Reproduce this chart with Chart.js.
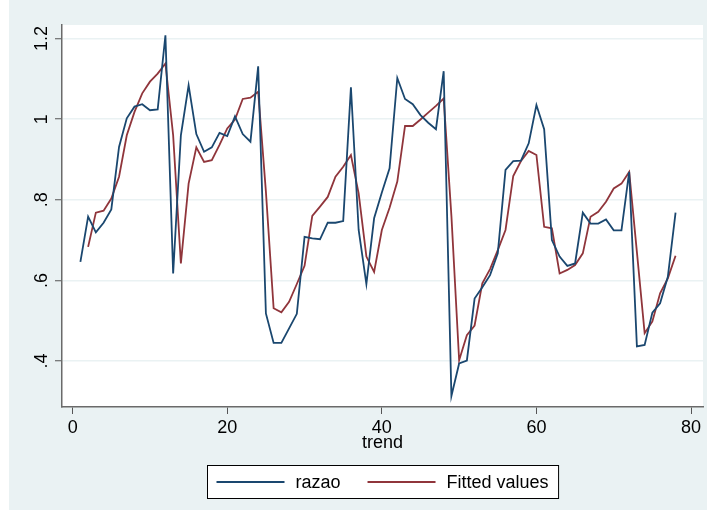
<!DOCTYPE html>
<html>
<head>
<meta charset="utf-8">
<script src="https://cdn.jsdelivr.net/npm/chart.js@4/dist/chart.umd.min.js"></script>
<style>
  html, body { margin: 0; padding: 0; background: #ffffff; }
  #c { display: block; }
</style>
</head>
<body>
<canvas id="c" width="707" height="515"></canvas>
<script>
// ---- data ----
const trend = [1,2,3,4,5,6,7,8,9,10,11,12,13,14,15,16,17,18,19,20,
  21,22,23,24,25,26,27,28,29,30,31,32,33,34,35,36,37,38,39,40,
  41,42,43,44,45,46,47,48,49,50,51,52,53,54,55,56,57,58,59,60,
  61,62,63,64,65,66,67,68,69,70,71,72,73,74,75,76,77,78];

const razao = [0.646,0.758,0.719,0.743,0.776,0.931,1.002,1.031,1.037,1.022,
  1.024,1.208,0.617,0.960,1.084,0.963,0.919,0.930,0.966,0.958,
  1.007,0.963,0.944,1.131,0.518,0.445,0.445,0.481,0.517,0.708,
  0.704,0.702,0.743,0.743,0.747,1.079,0.725,0.591,0.754,0.818,
  0.878,1.102,1.050,1.037,1.010,0.991,0.975,1.119,0.313,0.394,
  0.401,0.555,0.583,0.613,0.667,0.874,0.896,0.897,0.940,1.035,
  0.975,0.700,0.659,0.636,0.642,0.768,0.741,0.741,0.751,0.724,
  0.724,0.869,0.436,0.440,0.520,0.543,0.609,0.768];

const fitted = [null,0.683,0.768,0.773,0.803,0.857,0.960,1.018,1.064,1.093,
  1.113,1.138,0.960,0.642,0.840,0.930,0.894,0.898,0.936,0.977,
  0.999,1.050,1.053,1.068,0.820,0.531,0.521,0.547,0.591,0.636,
  0.760,0.783,0.807,0.857,0.882,0.911,0.816,0.659,0.621,0.725,
  0.780,0.845,0.983,0.983,0.999,1.016,1.033,1.051,0.760,0.402,
  0.464,0.488,0.593,0.628,0.675,0.725,0.859,0.896,0.921,0.911,
  0.733,0.729,0.617,0.626,0.638,0.667,0.758,0.770,0.795,0.828,
  0.840,0.869,0.670,0.469,0.498,0.568,0.605,0.661];

const seriesNames = ['razao', 'Fitted values'];
const xTicks = [0, 20, 40, 60, 80];
const yTicks = [0.4, 0.6, 0.8, 1.0, 1.2];
const yTickLabels = ['.4', '.6', '.8', '1', '1.2'];
const xTitle = 'trend';

// ---- style ----
const FONT = "'Liberation Sans', Arial, Helvetica, sans-serif";
const BG = '#EAF2F3';
const COLORS = ['#1A476F', '#90353B'];

const bgPlugin = {
  id: 'stataBg',
  beforeDraw(chart) {
    const {ctx, chartArea: a} = chart;
    ctx.save();
    ctx.fillStyle = '#ffffff';
    ctx.fillRect(0, 0, chart.width, chart.height);
    ctx.fillStyle = BG;
    ctx.fillRect(9, 0, chart.width - 9, 510);
    ctx.fillStyle = '#ffffff';
    ctx.fillRect(a.left, a.top, a.right - a.left, a.bottom - a.top);
    ctx.restore();
  }
};

const legendPlugin = {
  id: 'stataLegend',
  afterDraw(chart) {
    const {ctx, chartArea: a} = chart;
    ctx.save();
    ctx.font = '18px ' + FONT;
    const w = seriesNames.map(s => ctx.measureText(s).width);
    const padL = 9, lineLen = 68, gap = 11, itemGap = 27, padR = 10;
    const total = padL + lineLen + gap + w[0] + itemGap + lineLen + gap + w[1] + padR;
    const cx = (a.left + a.right) / 2;
    const left = Math.round(cx - total / 2) + 0.5;
    const top = 465.5, h = 33;
    ctx.fillStyle = '#ffffff';
    ctx.fillRect(left, top, total, h);
    ctx.strokeStyle = '#000000';
    ctx.lineWidth = 1;
    ctx.strokeRect(left, top, total, h);
    const cy = 482;
    let x = left + padL;
    chart.data.datasets.forEach((ds, i) => {
      ctx.strokeStyle = ds.borderColor;
      ctx.lineWidth = ds.borderWidth;
      ctx.beginPath();
      ctx.moveTo(x, cy);
      ctx.lineTo(x + lineLen, cy);
      ctx.stroke();
      x += lineLen + gap;
      ctx.fillStyle = '#000000';
      ctx.textBaseline = 'middle';
      ctx.textAlign = 'left';
      ctx.fillText(ds.label, x, cy + 1);
      x += w[i] + itemGap;
    });
    ctx.restore();
  }
};

const ctx = document.getElementById('c').getContext('2d');
new Chart(ctx, {
  type: 'line',
  data: {
    datasets: [
      {
        label: seriesNames[0],
        data: trend.map((t, i) => ({x: t, y: razao[i]})),
        borderColor: COLORS[0],
        backgroundColor: COLORS[0],
        borderWidth: 1.8,
        pointRadius: 0,
        tension: 0,
        fill: false
      },
      {
        label: seriesNames[1],
        data: trend.map((t, i) => ({x: t, y: fitted[i]})),
        borderColor: COLORS[1],
        backgroundColor: COLORS[1],
        borderWidth: 1.8,
        pointRadius: 0,
        tension: 0,
        fill: false
      }
    ]
  },
  options: {
    responsive: false,
    animation: false,
    devicePixelRatio: 1,
    layout: { padding: { top: 25, right: 4, left: 0, bottom: 0 } },
    plugins: {
      legend: { display: false },
      tooltip: { enabled: false }
    },
    scales: {
      x: {
        type: 'linear',
        min: -1.38,
        max: 81.55,
        afterBuildTicks(scale) { scale.ticks = xTicks.map(v => ({value: v})); },
        afterFit(scale) { scale.height = 108; },
        grid: {
          drawOnChartArea: false,
          drawTicks: true,
          tickLength: 7,
          tickColor: '#555555',
          tickWidth: 1
        },
        border: { display: true, color: '#6a6a6a', width: 1.5 },
        ticks: {
          color: '#000000',
          font: { family: FONT, size: 18 },
          padding: 3,
          maxRotation: 0,
          minRotation: 0,
          callback: (v) => String(v)
        },
        title: {
          display: true,
          text: xTitle,
          color: '#000000',
          font: { family: FONT, size: 18 },
          padding: { top: 0, bottom: 61 }
        }
      },
      y: {
        type: 'linear',
        min: 0.2859,
        max: 1.2335,
        afterBuildTicks(scale) { scale.ticks = yTicks.map(v => ({value: v})); },
        afterFit(scale) { scale.width = 62; },
        grid: {
          color: BG,
          lineWidth: 1.5,
          drawTicks: true,
          tickLength: 7,
          tickColor: '#555555',
          tickWidth: 1
        },
        border: { display: true, color: '#6a6a6a', width: 1.5 },
        ticks: {
          color: '#000000',
          font: { family: FONT, size: 18 },
          minRotation: 90,
          maxRotation: 90,
          crossAlign: 'center',
          padding: 0.5,
          callback: (v, i) => yTickLabels[i]
        }
      }
    }
  },
  plugins: [bgPlugin, legendPlugin]
});
</script>
</body>
</html>
